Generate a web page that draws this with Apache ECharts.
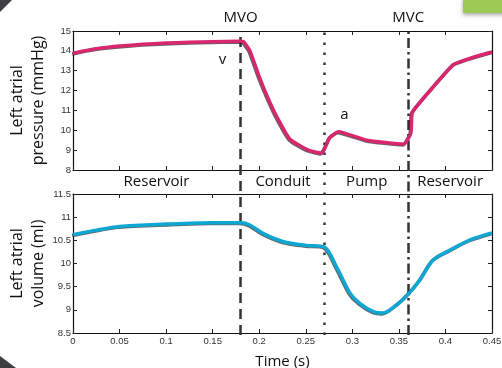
<!DOCTYPE html>
<html><head><meta charset="utf-8">
<script src="https://cdn.jsdelivr.net/npm/echarts@6/dist/echarts.min.js"></script>
<style>html,body{margin:0;padding:0;background:#fff;}#c{width:502px;height:368px;}</style>
</head><body><div id="c"></div>
<script>
// Time (s) for pressure curve
const pressureTime = [0, 0.01, 0.02, 0.03, 0.04, 0.05, 0.075, 0.1, 0.125, 0.15, 0.178, 0.183, 0.19, 0.2, 0.206, 0.217, 0.233, 0.2527, 0.267, 0.271, 0.276, 0.285, 0.3155, 0.355, 0.3585, 0.363, 0.3645, 0.3835, 0.4086, 0.4247, 0.45];
const pressureValues = [13.88, 13.98, 14.07, 14.14, 14.2, 14.24, 14.33, 14.39, 14.43, 14.46, 14.48, 14.46, 14.0, 12.7, 12.0, 10.85, 9.55, 9.0, 8.85, 9.15, 9.64, 9.92, 9.5, 9.3, 9.47, 9.89, 10.9, 12.0, 13.31, 13.6, 13.94];
const volumeTime = [0, 0.025, 0.05, 0.1, 0.15, 0.18, 0.19, 0.204, 0.226, 0.251, 0.2696, 0.283, 0.2975, 0.308, 0.3226, 0.333, 0.3477, 0.361, 0.3728, 0.387, 0.405, 0.4266, 0.45];
const volumeValues = [10.62, 10.72, 10.8, 10.85, 10.88, 10.88, 10.83, 10.65, 10.47, 10.39, 10.36, 9.93, 9.36, 9.14, 8.96, 8.93, 9.11, 9.36, 9.65, 10.08, 10.29, 10.51, 10.66];
const eventNames = ['MVO', '', 'MVC'];
const eventTimes = [0.18, 0.27, 0.36];
const phaseLabels = ['Reservoir', 'Conduit', 'Pump', 'Reservoir'];
const phaseCenters = [0.0897, 0.2255, 0.3155, 0.405];
const waveLabels = ['v', 'a'];
const wavePoints = [[0.1606, 13.57], [0.2914, 10.77]];
const pressureTicks = [8, 15, 1];
const volumeTicks = [8.5, 11.5, 0.5];
const timeTicks = [0, 0.45, 0.05];

const FONT = '"Open Sans", sans-serif';
const TICKFONT = '"Liberation Sans", Arial, sans-serif';
const chart = echarts.init(document.getElementById('c'));
const fmt = v => String(Math.round(v * 1000) / 1000);
const frame = {lineStyle: {color: '#111', width: 1.2}};

function xAx(grid, pos, labels, extra) {
  return Object.assign({
    type: 'value', gridIndex: grid, position: pos, min: timeTicks[0], max: timeTicks[1], interval: timeTicks[2],
    axisLine: Object.assign({show: true, onZero: false}, frame),
    axisTick: {show: true, inside: true, length: 4, lineStyle: {color: '#222'}},
    axisLabel: {show: labels, formatter: fmt, fontSize: 9.5, color: '#333', fontFamily: TICKFONT, margin: 3},
    splitLine: {show: false}, nameMoveOverlap: false
  }, extra || {});
}
function yAx(grid, pos, t, labels, extra) {
  return Object.assign({
    type: 'value', gridIndex: grid, position: pos, min: t[0], max: t[1], interval: t[2],
    axisLine: Object.assign({show: true, onZero: false}, frame),
    axisTick: {show: true, inside: true, length: 4, lineStyle: {color: '#222'}},
    axisLabel: {show: labels, formatter: fmt, fontSize: 9.5, color: '#333', fontFamily: TICKFONT, margin: 2},
    splitLine: {show: false}, nameMoveOverlap: false
  }, extra || {});
}
const g = (top, height) => ({left: 73, top: top, width: 419, height: height, containLabel: false, outerBoundsMode: 'none'});

const option = {
  animation: false,
  backgroundColor: '#fff',
  grid: [g(31, 139), g(194, 139), g(31, 304)],
  xAxis: [
    xAx(0, 'bottom', false),
    xAx(0, 'top', false),
    xAx(1, 'bottom', true, {name: 'Time (s)', nameLocation: 'middle', nameGap: 21,
      nameTextStyle: {fontSize: 15, color: '#111', fontFamily: FONT}}),
    xAx(1, 'top', false),
    {type: 'value', gridIndex: 2, min: timeTicks[0], max: timeTicks[1], show: false}
  ],
  yAxis: [
    yAx(0, 'left', pressureTicks, true, {name: 'Left atrial\npressure (mmHg)', nameLocation: 'middle', nameGap: 24, nameRotate: 90,
      nameTextStyle: {fontSize: 16, color: '#111', fontFamily: FONT, lineHeight: 21}}),
    yAx(0, 'right', pressureTicks, false),
    yAx(1, 'left', volumeTicks, true, {name: 'Left atrial\nvolume (ml)', nameLocation: 'middle', nameGap: 24, nameRotate: 90,
      nameTextStyle: {fontSize: 16, color: '#111', fontFamily: FONT, lineHeight: 21}}),
    yAx(1, 'right', volumeTicks, false),
    {type: 'value', gridIndex: 2, min: 0, max: 1, show: false}
  ],
  series: [
    {
      type: 'line', xAxisIndex: 0, yAxisIndex: 0, symbol: 'none', smooth: 0.15,
      data: pressureTime.map((t, i) => [t, pressureValues[i]]),
      lineStyle: {color: '#d8276f', width: 3.5, shadowColor: 'rgba(0,0,0,0.6)', shadowBlur: 0, shadowOffsetX: -0.8, shadowOffsetY: 0.8},
      z: 5,
      markPoint: {
        symbol: 'circle', symbolSize: 0,
        label: {show: true, position: 'inside', fontSize: 15, color: '#111', fontFamily: FONT},
        data: wavePoints.map((p, i) => ({coord: p, value: waveLabels[i], label: {formatter: waveLabels[i]}}))
      }
    },
    {
      type: 'line', xAxisIndex: 2, yAxisIndex: 2, symbol: 'none', smooth: 0.3,
      data: volumeTime.map((t, i) => [t, volumeValues[i]]),
      lineStyle: {color: '#0ea6d2', width: 3.5, shadowColor: 'rgba(0,0,0,0.6)', shadowBlur: 0, shadowOffsetX: -0.8, shadowOffsetY: 0.8},
      z: 5
    },
    {
      type: 'line', xAxisIndex: 4, yAxisIndex: 4, data: [], symbol: 'none', z: 3,
      markLine: {
        silent: true, symbol: 'none', animation: false,
        label: {show: true, position: 'end', distance: 6, fontSize: 15, color: '#111', fontFamily: FONT},
        data: eventTimes.map((t, i) => ({
          xAxis: t,
          label: {formatter: eventNames[i] || ''},
          lineStyle: {color: '#333', width: 2.5,
            type: i === 0 ? [10, 6] : (i === 1 ? [2.5, 7.5] : [10, 4, 2.5, 4])}
        }))
      },
      markPoint: {
        symbol: 'circle', symbolSize: 0,
        label: {show: true, position: 'inside', fontSize: 15, color: '#111', fontFamily: FONT},
        data: phaseLabels.map((s, i) => ({coord: [phaseCenters[i], 0.503], value: s, label: {formatter: s}}))
      }
    }
  ],
  graphic: [
    {type: 'rect', shape: {x: 463, y: -2, width: 45, height: 15},
      style: {fill: '#9bcb55', shadowColor: 'rgba(0,0,0,0.35)', shadowBlur: 4, shadowOffsetY: 2}, z: 10},
    {type: 'polygon', shape: {points: [[0, 0], [12, 0], [0, 12]]}, style: {fill: '#3c3f42'}, z: 10},
    {type: 'polygon', shape: {points: [[0, 356], [16, 368], [0, 368]]}, style: {fill: '#3c3f42'}, z: 10}
  ]
};
chart.setOption(option);
</script>
</body></html>
